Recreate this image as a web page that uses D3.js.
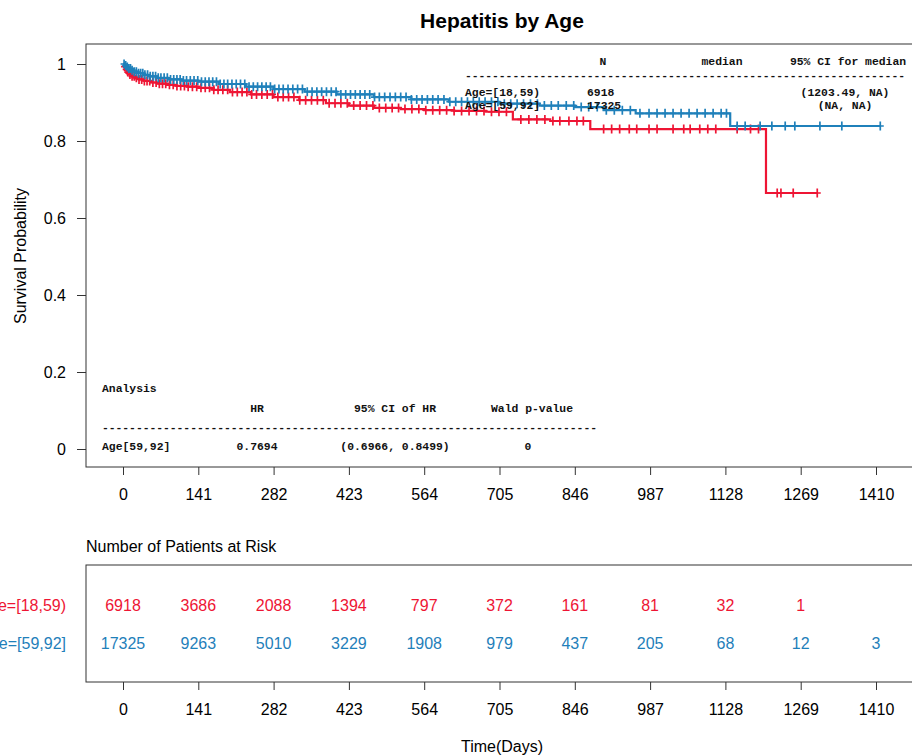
<!DOCTYPE html>
<html>
<head>
<meta charset="utf-8">
<script src="https://cdn.jsdelivr.net/npm/d3@7"></script>
<style>
body { margin: 0; background: #fff; }
text { font-family: "Liberation Sans", Arial, Helvetica, sans-serif; }
.mono text { font-family: "Liberation Mono", "Courier New", monospace; font-weight: bold; font-size: 11.4px; }
</style>
</head>
<body>
<svg id="chart" width="912" height="755"></svg>
<script>
// Kaplan-Meier curves
var groups = ["Age=[18,59)", "Age=[59,92]"];
var colors = ["#ee1534", "#1f80ba"];

var redTimes = [0, 2, 5, 8, 12, 17, 23, 30, 40, 52, 66, 82, 100, 120, 141, 170, 200, 240, 282, 330, 380, 423, 470, 520, 564, 620, 680, 730, 800, 875, 1204];
var redSurv = [1, .993, .986, .979, .973, .968, .964, .960, .956, .952, .949, .946, .943, .941, .938, .933, .927, .921, .914, .906, .898, .892, .886, .883, .880, .878, .876, .856, .852, .831, .665];
var redEnd = 1300;
var redCensor = [3, 6, 9, 13, 17, 21, 25, 30, 35, 40, 45, 50, 56, 62, 68, 74, 80, 87, 94, 101, 108, 115, 122, 130, 138, 146, 154, 162, 170, 178, 187, 196, 205, 214, 223, 232, 241, 250, 260, 270, 280, 290, 300, 310, 320, 331, 342, 353, 364, 375, 386, 397, 408, 420, 432, 444, 456, 468, 480, 492, 504, 516, 528, 541, 554, 567, 580, 593, 606, 620, 634, 648, 662, 676, 690, 704, 718, 745, 760, 775, 790, 805, 818, 835, 850, 862, 900, 915, 930, 948, 962, 985, 1000, 1030, 1050, 1062, 1080, 1095, 1110, 1150, 1175, 1190, 1225, 1232, 1255, 1300];

var blueTimes = [0, 3, 6, 10, 15, 21, 28, 38, 50, 65, 85, 110, 141, 180, 230, 282, 340, 400, 470, 540, 610, 705, 780, 846, 900, 960, 1137];
var blueSurv = [1, .996, .992, .988, .984, .980, .976, .972, .968, .964, .960, .957, .954, .948, .941, .935, .928, .921, .914, .908, .902, .897, .892, .888, .880, .872, .839];
var blueEnd = 1418;
var blueCensor = [2, 5, 8, 11, 14, 17, 21, 25, 29, 33, 37, 41, 46, 51, 56, 61, 66, 71, 77, 83, 89, 95, 101, 107, 113, 119, 126, 133, 140, 147, 154, 161, 168, 175, 182, 189, 196, 204, 212, 220, 228, 236, 244, 252, 260, 268, 276, 284, 292, 300, 309, 318, 327, 336, 345, 354, 363, 372, 381, 390, 399, 408, 417, 426, 435, 444, 453, 462, 471, 480, 490, 500, 510, 520, 530, 540, 550, 560, 570, 580, 590, 601, 612, 623, 634, 645, 656, 667, 678, 690, 702, 714, 726, 738, 750, 763, 776, 789, 802, 815, 830, 844, 858, 872, 888, 905, 920, 935, 950, 968, 985, 1000, 1015, 1030, 1045, 1060, 1075, 1090, 1105, 1120, 1130, 1150, 1165, 1193, 1215, 1240, 1258, 1305, 1346, 1418];

var xTicks = [0, 141, 282, 423, 564, 705, 846, 987, 1128, 1269, 1410];
var yTicks = [0, 0.2, 0.4, 0.6, 0.8, 1];

var riskRed = [6918, 3686, 2088, 1394, 797, 372, 161, 81, 32, 1];
var riskBlue = [17325, 9263, 5010, 3229, 1908, 979, 437, 205, 68, 12, 3];

// summary tables printed inside the plot
var medianHeader = ["N", "median", "95% CI for median"];
var medianRows = [
	["Age=[18,59)", "6918", "", "(1203.49, NA)"],
	["Age=[59,92]", "17325", "", "(NA, NA)"]
];
var hrHeader = ["HR", "95% CI of HR", "Wald p-value"];
var hrRow = ["Age[59,92]", "0.7694", "(0.6966, 0.8499)", "0"];

var svg = d3.select("#chart");

var frame = {left: 86, right: 918, top: 44, bottom: 467};
var x = d3.scaleLinear().domain([0, 1410]).range([123, 876]);
var y = d3.scaleLinear().domain([0, 1]).range([449, 64]);
var fs = "16px";

svg.append("text")
	.attr("x", 502).attr("y", 28)
	.attr("text-anchor", "middle")
	.style("font-size", "21px").style("font-weight", "bold")
	.text("Hepatitis by Age");

svg.append("rect")
	.attr("x", frame.left).attr("y", frame.top)
	.attr("width", frame.right - frame.left).attr("height", frame.bottom - frame.top)
	.attr("fill", "none").attr("stroke", "#333").attr("stroke-width", 1);

// y axis
var yAxis = svg.append("g").attr("transform", "translate(" + frame.left + ",0)")
	.call(d3.axisLeft(y).tickValues(yTicks).tickSize(9).tickPadding(11).tickFormat(d3.format("")));
yAxis.select(".domain").remove();
yAxis.selectAll("text").style("font-size", fs).style("font-family", "Liberation Sans, Arial, sans-serif");
yAxis.selectAll("line").attr("stroke", "#333");

svg.append("text")
	.attr("transform", "translate(26,256) rotate(-90)")
	.attr("text-anchor", "middle")
	.style("font-size", fs)
	.text("Survival Probability");

function drawXAxis(top) {
	var g = svg.append("g").attr("transform", "translate(0," + top + ")")
		.call(d3.axisBottom(x).tickValues(xTicks).tickSize(8).tickPadding(14).tickFormat(d3.format("d")));
	g.select(".domain").remove();
	g.selectAll("text").style("font-size", fs).style("font-family", "Liberation Sans, Arial, sans-serif");
	g.selectAll("line").attr("stroke", "#333");
}
drawXAxis(frame.bottom);

// curves
function stepY(times, surv, t) {
	return surv[d3.bisectRight(times, t) - 1];
}

function drawCurve(times, surv, end, censor, color) {
	var pts = times.map(function(t, i) { return [t, surv[i]]; });
	pts.push([end, surv[surv.length - 1]]);
	var line = d3.line()
		.x(function(d) { return x(d[0]); })
		.y(function(d) { return y(d[1]); })
		.curve(d3.curveStepAfter);
	svg.append("path")
		.attr("d", line(pts))
		.attr("fill", "none").attr("stroke", color).attr("stroke-width", 2.2);
	svg.append("g").selectAll("path")
		.data(censor)
		.enter().append("path")
		.attr("transform", function(d) { return "translate(" + x(d) + "," + y(stepY(times, surv, d)) + ")"; })
		.attr("d", "M-3.5,0H3.5M0,-4.5V4.5")
		.attr("stroke", color).attr("stroke-width", 1.7);
}
drawCurve(redTimes, redSurv, redEnd, redCensor, colors[0]);
drawCurve(blueTimes, blueSurv, blueEnd, blueCensor, colors[1]);

// median table (top right)
var mono = svg.append("g").attr("class", "mono").attr("fill", "#111");
mono.append("text").attr("x", 603).attr("y", 65).attr("text-anchor", "middle").text(medianHeader[0]);
mono.append("text").attr("x", 722).attr("y", 65).attr("text-anchor", "middle").text(medianHeader[1]);
mono.append("text").attr("x", 848).attr("y", 65).attr("text-anchor", "middle").text(medianHeader[2]);
mono.append("text").attr("x", 465).attr("y", 79).attr("textLength", 440).attr("lengthAdjust", "spacing")
	.text(d3.range(65).map(function() { return "-"; }).join(""));
medianRows.forEach(function(r, i) {
	var yy = 96 + i * 13;
	mono.append("text").attr("x", 465).attr("y", yy).text(r[0]);
	mono.append("text").attr("x", 587).attr("y", yy).text(r[1]);
	mono.append("text").attr("x", 722).attr("y", yy).attr("text-anchor", "middle").text(r[2]);
	mono.append("text").attr("x", 845).attr("y", yy).attr("text-anchor", "middle").text(r[3]);
});

// hazard ratio table (bottom left)
mono.append("text").attr("x", 102).attr("y", 392).text("Analysis");
mono.append("text").attr("x", 257).attr("y", 412).attr("text-anchor", "middle").text(hrHeader[0]);
mono.append("text").attr("x", 395).attr("y", 412).attr("text-anchor", "middle").text(hrHeader[1]);
mono.append("text").attr("x", 532).attr("y", 412).attr("text-anchor", "middle").text(hrHeader[2]);
mono.append("text").attr("x", 102).attr("y", 431).attr("textLength", 495).attr("lengthAdjust", "spacing")
	.text(d3.range(73).map(function() { return "-"; }).join(""));
mono.append("text").attr("x", 102).attr("y", 450).text(hrRow[0]);
mono.append("text").attr("x", 257).attr("y", 450).attr("text-anchor", "middle").text(hrRow[1]);
mono.append("text").attr("x", 395).attr("y", 450).attr("text-anchor", "middle").text(hrRow[2]);
mono.append("text").attr("x", 528).attr("y", 450).attr("text-anchor", "middle").text(hrRow[3]);

// number at risk table
var risk = {top: 565, bottom: 682};
svg.append("text")
	.attr("x", 86).attr("y", 552)
	.style("font-size", fs)
	.text("Number of Patients at Risk");

svg.append("rect")
	.attr("x", frame.left).attr("y", risk.top)
	.attr("width", frame.right - frame.left).attr("height", risk.bottom - risk.top)
	.attr("fill", "none").attr("stroke", "#333").attr("stroke-width", 1);

[riskRed, riskBlue].forEach(function(row, i) {
	var yy = 611 + i * 38;
	svg.append("text")
		.attr("x", 66).attr("y", yy)
		.attr("text-anchor", "end")
		.attr("fill", colors[i])
		.style("font-size", fs)
		.text(groups[i]);
	svg.append("g").selectAll("text")
		.data(row)
		.enter().append("text")
		.attr("x", function(d, j) { return x(xTicks[j]); })
		.attr("y", yy)
		.attr("text-anchor", "middle")
		.attr("fill", colors[i])
		.style("font-size", fs)
		.text(function(d) { return d; });
});

drawXAxis(risk.bottom);

svg.append("text")
	.attr("x", 502).attr("y", 752)
	.attr("text-anchor", "middle")
	.style("font-size", fs)
	.text("Time(Days)");
</script>
</body>
</html>
